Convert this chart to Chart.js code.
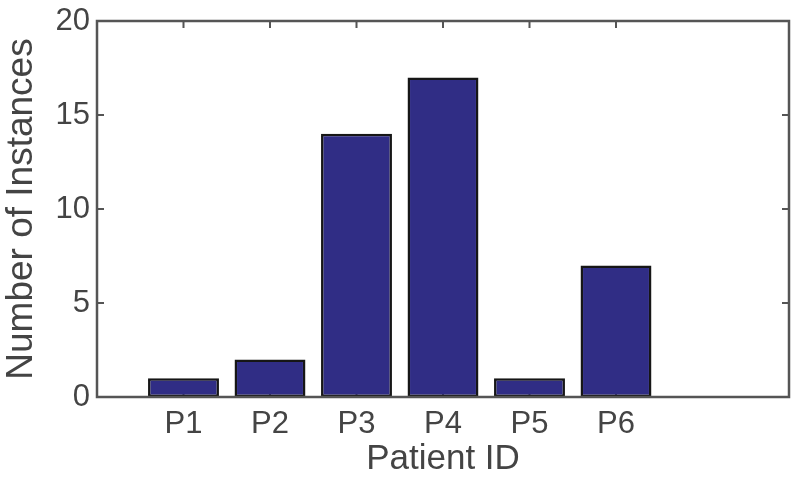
<!DOCTYPE html>
<html lang="en">
<head>
  <meta charset="UTF-8">
  <title>Instances per patient</title>
  <script src="https://cdn.jsdelivr.net/npm/chart.js"></script>
  <style>
    html, body { margin: 0; padding: 0; background: #fff; }
    #wrap { width: 800px; height: 480px; }
  </style>
</head>
<body>
<div id="wrap"><canvas id="barChart"></canvas></div>

<script>
  // data
  var patients = ['P1', 'P2', 'P3', 'P4', 'P5', 'P6'];
  var instances = [1, 2, 14, 17, 1, 7];
  var yTicks = [0, 5, 10, 15, 20];

  var axisColor = '#555555';
  var textColor = '#444444';

  // bars sit at x = 1..6 on a 0..8 axis, like the matlab figure
  var points = patients.map(function(p, i) {
    return { x: i + 1, y: instances[i] };
  });

  // box round the plot with small inward ticks
  var boxPlugin = {
    id: 'box',
    beforeDatasetsDraw: function(chart) {
      var ctx = chart.ctx, a = chart.chartArea;
      var xs = chart.scales.x, ys = chart.scales.y;
      var len = 7;
      ctx.save();
      ctx.strokeStyle = axisColor;
      ctx.lineWidth = 2;
      ctx.beginPath();
      yTicks.forEach(function(v) {
        var py = ys.getPixelForValue(v);
        ctx.moveTo(a.left, py); ctx.lineTo(a.left + len, py);
        ctx.moveTo(a.right, py); ctx.lineTo(a.right - len, py);
      });
      patients.forEach(function(p, i) {
        var px = xs.getPixelForValue(i + 1);
        ctx.moveTo(px, a.bottom); ctx.lineTo(px, a.bottom - len);
        ctx.moveTo(px, a.top); ctx.lineTo(px, a.top + len);
      });
      ctx.stroke();
      ctx.restore();
    },
    afterDatasetsDraw: function(chart) {
      var ctx = chart.ctx, a = chart.chartArea;
      ctx.save();
      ctx.strokeStyle = axisColor;
      ctx.lineWidth = 2.5;
      ctx.strokeRect(a.left, a.top, a.right - a.left, a.bottom - a.top);
      ctx.restore();
    }
  };

  Chart.defaults.font.family = '"Liberation Sans", Arial, sans-serif';
  Chart.defaults.color = textColor;

  var ctx = document.getElementById('barChart').getContext('2d');
  new Chart(ctx, {
    type: 'bar',
    data: {
      datasets: [{
        label: 'Number of Instances',
        data: points,
        backgroundColor: '#302d85',
        borderColor: '#161616',
        borderWidth: 2.5,
        borderSkipped: false,
        barPercentage: 0.82,
        categoryPercentage: 1.0
      }]
    },
    options: {
      responsive: true,
      maintainAspectRatio: false,
      animation: false,
      layout: { padding: { top: 21, right: 11, left: 0, bottom: 0 } },
      plugins: {
        legend: { display: false },
        tooltip: { enabled: false }
      },
      scales: {
        x: {
          type: 'linear',
          offset: false,
          min: 0,
          max: 8,
          afterFit: function(s) {
            s.height = 83;
            s.paddingLeft = 0;
            s.paddingRight = 0;
          },
          afterBuildTicks: function(s) {
            s.ticks = patients.map(function(p, i) { return { value: i + 1 }; });
          },
          ticks: {
            font: { size: 31 },
            padding: 9,
            maxRotation: 0,
            callback: function(v) { return patients[v - 1] || ''; }
          },
          grid: { display: false, drawTicks: false },
          border: { display: false },
          title: {
            display: true,
            text: 'Patient ID',
            font: { size: 35 },
            padding: { top: 0, bottom: 0 }
          }
        },
        y: {
          min: 0,
          max: 20,
          afterFit: function(s) {
            s.width = 97;
            s.paddingTop = 0;
            s.paddingBottom = 0;
          },
          afterBuildTicks: function(s) {
            s.ticks = yTicks.map(function(v) { return { value: v }; });
          },
          ticks: {
            font: { size: 31 },
            padding: 7
          },
          grid: { display: false, drawTicks: false },
          border: { display: false },
          title: {
            display: true,
            text: 'Number of Instances',
            font: { size: 37 },
            padding: { top: 0, bottom: 0 }
          }
        }
      }
    },
    plugins: [boxPlugin]
  });
</script>
</body>
</html>
